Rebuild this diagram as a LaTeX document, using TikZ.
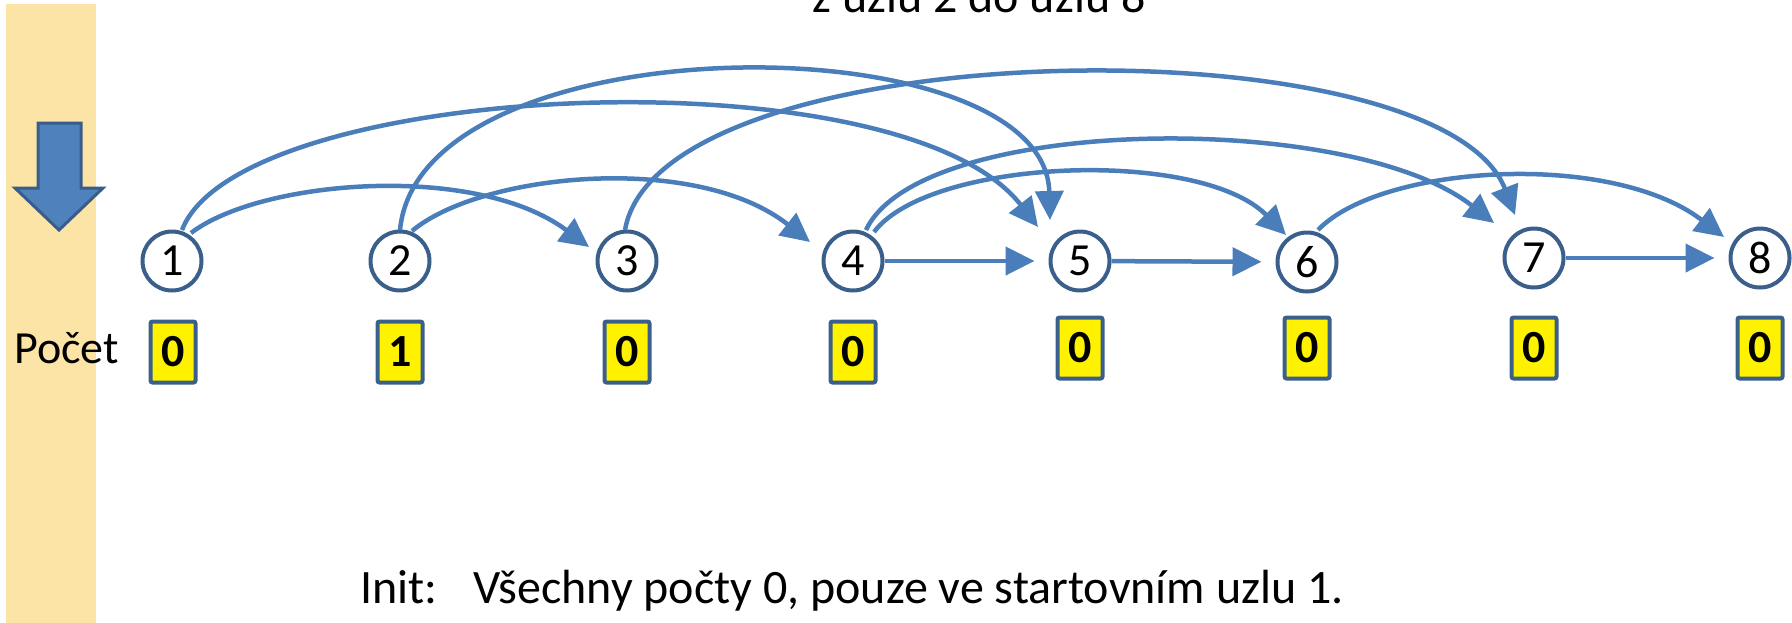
\documentclass[tikz,border=0pt]{standalone}
\usepackage{fontspec}
\setmainfont{Carlito}
\usetikzlibrary{arrows.meta}
\definecolor{edgeblue}{RGB}{74,126,187}
\definecolor{nodeborder}{RGB}{58,95,139}
\definecolor{bandcol}{RGB}{252,228,167}
\definecolor{arrowfill}{RGB}{79,129,189}
\definecolor{arrowborder}{RGB}{56,93,138}
\tikzset{
  circnode/.style={circle, draw=nodeborder, line width=2pt, fill=white, minimum size=29.5pt, inner sep=0pt, font=\fontsize{23pt}{27pt}\selectfont},
  countbox/.style={rectangle, rounded corners=1pt, draw=nodeborder, line width=2pt, fill=yellow, minimum width=22.5pt, minimum height=30.5pt, inner sep=0pt, font=\fontsize{23pt}{27pt}\selectfont\bfseries},
  edge/.style={draw=edgeblue, line width=2.25pt, -{Triangle[length=14.5pt,width=14pt]}},
  plaintext/.style={inner sep=0pt, font=\fontsize{24pt}{28pt}\selectfont},
}
\begin{document}
\begin{tikzpicture}[x=0.5pt,y=-0.5pt]
\useasboundingbox (0,0) rectangle (1792,622);
\clip (0,0) rectangle (1792,622);
% band and big arrow
\fill[bandcol] (6,4) rectangle (96,640);
\draw[arrowborder, fill=arrowfill, line width=1.5pt, line join=miter]
  (38,123) -- (81,123) -- (81,188) -- (103,188) -- (59,230) -- (15,188) -- (38,188) -- cycle;
% nodes
\foreach \i/\x/\y in {1/172/261, 2/400/261, 3/627/261, 4/853/261, 5/1080/261, 6/1307/262, 7/1534/258, 8/1760/258}{
  \node[circnode] (n\i) at (\x,\y) {\i};
}
\foreach \i/\x/\y/\v in {1/173/352/0, 2/400/352/1, 3/627/352/0, 4/853/352/0, 5/1080/348/0, 6/1307/348/0, 7/1534/348/0, 8/1760/348/0}{
  \node[countbox] (b\i) at (\x,\y) {\v};
}
% texts
\node[plaintext, anchor=base west, font=\fontsize{23pt}{27pt}\selectfont] (pocet) at (14,363) {Počet};
\node[plaintext, anchor=base west] (init) at (360,603) {Init:\hspace{0.75em}Všechny počty 0, pouze ve startovním uzlu 1.};
\node[plaintext, anchor=base west] (title) at (812,12) {z uzlu 2 do uzlu 8};
% straight edges
\draw[edge, shorten >=7pt] (n4) -- (n5);
\draw[edge, shorten >=7pt] (n5) -- (n6);
\draw[edge, shorten >=7pt] (n7) -- (n8);
% curved edges
\draw[edge] ([shift={(19,-28)}]n1.center) .. controls +(69,-53) and +(-114,-85) .. ([shift={(-38,-14)}]n3.center);
\draw[edge] ([shift={(12,-30)}]n2.center) .. controls +(69,-58) and +(-114,-90) .. ([shift={(-43,-19)}]n4.center);
\draw[edge] ([shift={(21,-29)}]n4.center) .. controls +(56,-74) and +(-86,-87) .. ([shift={(-21,-27)}]n6.center);
\draw[edge] ([shift={(13,-31)}]n4.center) .. controls +(54,-115) and +(-144,-113) .. ([shift={(-40,-35)}]n7.center);
\draw[edge] ([shift={(11,-32)}]n6.center) .. controls +(62,-65) and +(-114,-87) .. ([shift={(-36,-21)}]n8.center);
\draw[edge] ([shift={(10,-31)}]n1.center) .. controls +(58,-150) and +(-138,-177) .. ([shift={(-42,-34)}]n5.center);
\draw[edge] ([shift={(0,-31)}]n2.center) .. controls +(20,-210) and +(-5,-200) .. ([shift={(-30,-41)}]n5.center);
\draw[edge] ([shift={(-2,-31)}]n3.center) .. controls +(35,-200) and +(-75,-195) .. ([shift={(-19,-43)}]n7.center);
\end{tikzpicture}
\end{document}
